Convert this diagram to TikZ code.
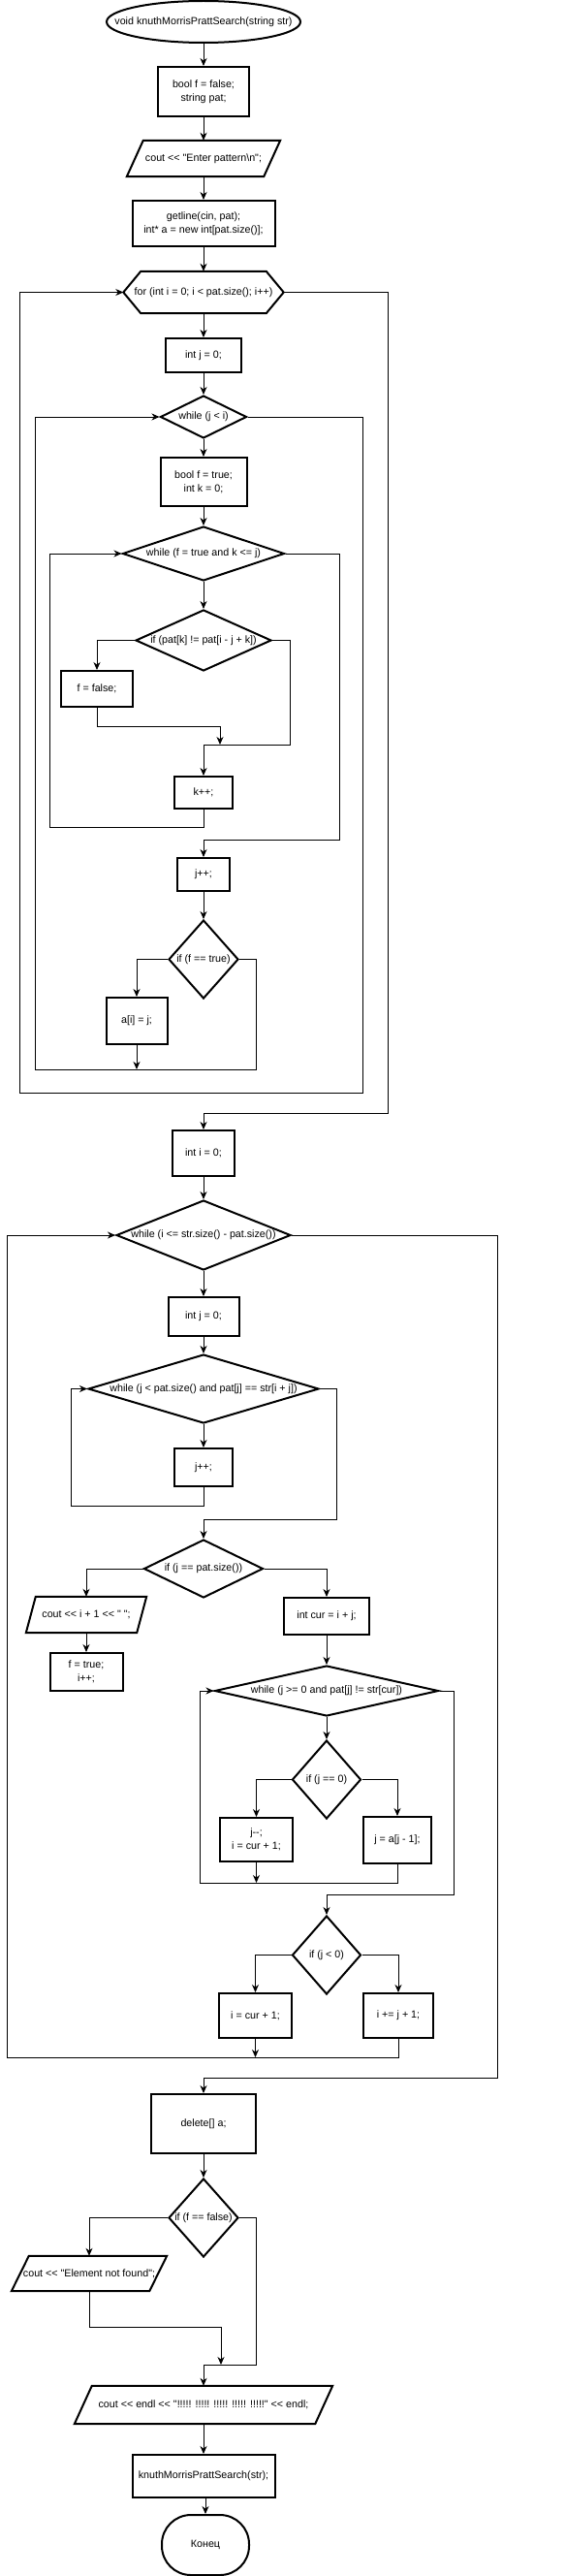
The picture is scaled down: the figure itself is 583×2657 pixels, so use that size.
\documentclass[tikz,border=0pt]{standalone}
\usepackage{fontspec}
\setmainfont{Liberation Sans}[Ligatures=TeXOff]
\usetikzlibrary{arrows.meta,shapes.geometric}
\tikzset{
  thickline/.style={line width=2pt},
  proc/.style={draw, thickline, rectangle, align=center, inner sep=0pt},
  dec/.style={draw, thickline, diamond, align=center, inner sep=0pt},
  term/.style={draw, thickline, inner sep=0pt},
  bare/.style={inner sep=0pt, align=center},
  flow/.style={line width=1pt, -{Stealth[length=8pt,width=7pt,inset=2.5pt]}},
}
\begin{document}
\begin{tikzpicture}[x=1pt,y=1pt,yscale=-1,font=\fontsize{10.7pt}{14.3pt}\selectfont]
\useasboundingbox (0,0) rectangle (583,2657);
\node[term, ellipse, minimum width=200, minimum height=43] (start) at (210,22.5) {};
\node (startlbl) at (start) {void knuthMorrisPrattSearch(string str)};
\node[proc, minimum width=94, minimum height=51] (init) at (210,94.5) {bool f = false;\\string pat;};
\node[bare, minimum width=158, minimum height=37] (inpat) at (210,163.5) {cout << "Enter pattern\textbackslash n";};
\draw[thickline] ([xshift=17pt]inpat.north west) -- (inpat.north east) -- ([xshift=-17pt]inpat.south east) -- (inpat.south west) -- cycle;
\node[proc, minimum width=147, minimum height=47] (alloc) at (210,230.5) {getline(cin, pat);\\int* a = new int[pat.size()];};
\node[bare, minimum width=165, minimum height=43] (forloop) at (210,301.5) {for (int i = 0; i < pat.size(); i++)};
\draw[thickline] (forloop.west) -- ([xshift=18pt]forloop.north west) -- ([xshift=-18pt]forloop.north east) -- (forloop.east) -- ([xshift=-18pt]forloop.south east) -- ([xshift=18pt]forloop.south west) -- cycle;
\node[proc, minimum width=78, minimum height=35] (jzero) at (210,366.5) {int j = 0;};
\node[dec, shape aspect=2.02, minimum width=89, minimum height=44] (whj) at (210,430) {while (j < i)};
\node[proc, minimum width=89, minimum height=50] (fk) at (210,497) {bool f = true;\\int k = 0;};
\node[dec, shape aspect=2.98, minimum width=167, minimum height=56] (whf) at (210,571) {while (f = true and k <= j)};
\node[dec, shape aspect=2.22, minimum width=140, minimum height=63] (ifpat) at (210,660.5) {if (pat[k] != pat[i - j + k])};
\node[proc, minimum width=74, minimum height=37] (ffalse) at (100,710.5) {f = false;};
\node[proc, minimum width=60, minimum height=33] (kinc) at (210,817.5) {k++;};
\node[proc, minimum width=54, minimum height=34] (jinc) at (210,902) {j++;};
\node[dec, shape aspect=0.89, minimum width=72, minimum height=81] (iftrue) at (210,989.5) {if (f == true)};
\node[proc, minimum width=63, minimum height=48] (aij) at (141,1053) {a[i] = j;};
\node[proc, minimum width=64, minimum height=47] (izero) at (210,1189.5) {int i = 0;};
\node[dec, shape aspect=2.5, minimum width=180, minimum height=72] (whi) at (210,1274) {while (i <= str.size() - pat.size())};
\node[proc, minimum width=73, minimum height=40] (jzero2) at (210,1358) {int j = 0;};
\node[dec, shape aspect=3.35, minimum width=238, minimum height=71] (whm) at (210,1432.5) {while (j < pat.size() and pat[j] == str[i + j])};
\node[proc, minimum width=60, minimum height=39] (jinc2) at (210,1513.5) {j++;};
\node[dec, shape aspect=2.05, minimum width=123, minimum height=60] (iffound) at (210,1618) {if (j == pat.size())};
\node[bare, minimum width=124, minimum height=37] (outi) at (89,1665.5) {cout << i + 1 << " ";};
\draw[thickline] ([xshift=10pt]outi.north west) -- (outi.north east) -- ([xshift=-10pt]outi.south east) -- (outi.south west) -- cycle;
\node[proc, minimum width=75, minimum height=39] (ftrue) at (89,1724.5) {f = true;\\i++;};
\node[proc, minimum width=88, minimum height=38] (cur) at (337,1667) {int cur = i + j;};
\node[dec, shape aspect=4.44, minimum width=231, minimum height=52] (whc) at (337,1744) {while (j >= 0 and pat[j] != str[cur])};
\node[dec, shape aspect=0.88, minimum width=71, minimum height=81] (ifzero) at (337,1835.5) {if (j == 0)};
\node[proc, minimum width=75, minimum height=45] (jdec) at (264.5,1897.5) {j--;\\i = cur + 1;};
\node[proc, minimum width=70, minimum height=48] (jback) at (410,1898) {j = a[j - 1];};
\node[dec, shape aspect=0.88, minimum width=71, minimum height=81] (ifneg) at (337,2016.5) {if (j < 0)};
\node[proc, minimum width=75, minimum height=46] (icur) at (263.5,2079) {i = cur + 1;};
\node[proc, minimum width=72, minimum height=46] (ishift) at (411,2079) {i += j + 1;};
\node[proc, minimum width=108, minimum height=61] (del) at (210,2190.5) {delete[] a;};
\node[dec, shape aspect=0.89, minimum width=72, minimum height=81] (iffalse) at (210,2287.5) {if (f == false)};
\node[bare, minimum width=160, minimum height=36] (notfound) at (92,2345) {cout << "Element not found";};
\draw[thickline] ([xshift=18pt]notfound.north west) -- (notfound.north east) -- ([xshift=-18pt]notfound.south east) -- (notfound.south west) -- cycle;
\node[bare, minimum width=266, minimum height=39] (outend) at (210,2480.5) {cout << endl << "!!!!! !!!!! !!!!! !!!!! !!!!!" << endl;};
\draw[thickline] ([xshift=18pt]outend.north west) -- (outend.north east) -- ([xshift=-18pt]outend.south east) -- (outend.south west) -- cycle;
\node[proc, minimum width=147, minimum height=44] (call) at (210,2554) {knuthMorrisPrattSearch(str);};
\node[term, rounded corners=30pt, minimum width=90, minimum height=62] (stop) at (212,2625) {Конец};
\coordinate (kmerge) at (210,768);
\coordinate (railK) at (51,853);
\coordinate (exitF) at (350,866);
\coordinate (railJ) at (36,1103);
\coordinate (exitT) at (264,1103);
\coordinate (railI) at (20,1127);
\coordinate (exitJ) at (374,1127);
\coordinate (exitFor) at (400,1148);
\coordinate (railM) at (73,1553);
\coordinate (exitM) at (347,1567);
\coordinate (railC) at (206,1942);
\coordinate (exitC) at (468,1954);
\coordinate (railW) at (7,2122);
\coordinate (exitW) at (513,2143);
\coordinate (emerge) at (210,2439);
\coordinate (exitE) at (264,2439);
\foreach \a/\b in {start/init, init/inpat, inpat/alloc, alloc/forloop, forloop/jzero, jzero/whj, whj/fk, fk/whf, whf/ifpat, jinc/iftrue, izero/whi, whi/jzero2, jzero2/whm, whm/jinc2, cur/whc, whc/ifzero, del/iffalse, outi/ftrue, outend/call}
  \draw[flow] (\a.south) -- (\b.north);
\draw[flow] (call.south -| stop.north) -- (stop.north);
\draw[flow] (ifpat.west) -| (ffalse.north);
\draw[flow] (ffalse.south) -- ++(0,19) -| ([xshift=17pt]kmerge);
\draw[flow] (ifpat.east) -- ++(18,0) |- (kmerge) -- (kinc.north);
\draw[flow] (kinc.south) |- (railK) |- (whf.west);
\draw[flow] (whf.east) -| (exitF) -| (jinc.north);
\draw[flow] (iftrue.west) -| (aij.north);
\draw[flow] (aij.south) -- (aij.south |- railJ);
\draw[flow] (iftrue.east) -| (exitT) -- (railJ) |- (whj.west);
\draw[flow] (whj.east) -| (exitJ) -- (railI) |- (forloop.west);
\draw[flow] (forloop.east) -| (exitFor) -| (izero.north);
\draw[flow] (jinc2.south) |- (railM) |- (whm.west);
\draw[flow] (whm.east) -| (exitM) -| (iffound.north);
\draw[flow] (iffound.west) -| (outi.north);
\draw[flow] (iffound.east) -| (cur.north);
\draw[flow] (ifzero.west) -| (jdec.north);
\draw[flow] (ifzero.east) -| (jback.north);
\draw[flow] (jdec.south) -- (jdec.south |- railC);
\draw[flow] (jback.south) |- (railC) |- (whc.west);
\draw[flow] (whc.east) -| (exitC) -| (ifneg.north);
\draw[flow] (ifneg.west) -| (icur.north);
\draw[flow] (ifneg.east) -| (ishift.north);
\draw[flow] (icur.south) -- (icur.south |- railW);
\draw[flow] (ishift.south) |- (railW) |- (whi.west);
\draw[flow] (whi.east) -| (exitW) -| (del.north);
\draw[flow] (iffalse.west) -| (notfound.north);
\draw[flow] (notfound.south) -- ++(0,37) -| ([xshift=18pt]emerge);
\draw[flow] (iffalse.east) -| (exitE) -| (outend.north);
\end{tikzpicture}
\end{document}
